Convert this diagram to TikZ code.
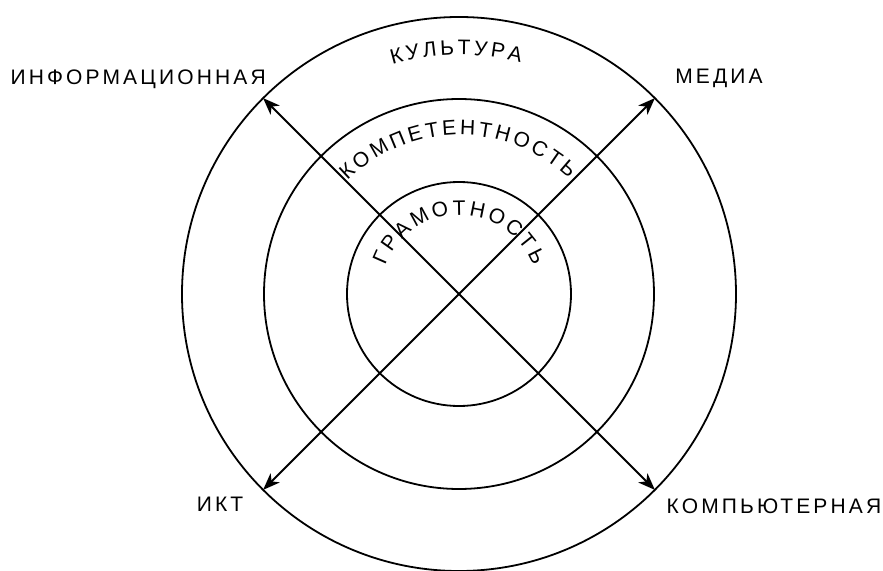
\documentclass[tikz,border=0pt]{standalone}
\usepackage{fontspec}
\setmainfont{Liberation Sans}[LetterSpace=15]
\usetikzlibrary{arrows.meta,decorations.text}

\newcommand{\tamano}{\fontsize{21}{25}\selectfont}
\newcommand{\arco}[2]{%
  \path[decorate, decoration={text along path, text align=center,
        text={|\tamano\kern3.2pt|#2}}]
    (181:#1) arc[start angle=181, end angle=1, radius=#1];}

\begin{document}
\begin{tikzpicture}[x=1pt, y=1pt, font=\tamano, line width=1.8pt,
                    flecha/.style={{Stealth[length=17pt, width=13pt, inset=5pt]}-{Stealth[length=17pt, width=13pt, inset=5pt]}}]
  \useasboundingbox (-459,-276) rectangle (424,294);
  % circulos
  \foreach \r in {277,195,112} \draw (0,0) circle (\r);
  % extremos de las flechas
  \foreach \n/\a in {no/135, ne/45, so/225, se/315}
    \coordinate (\n) at (\a:277);
  \draw[flecha] (no) -- (se);
  \draw[flecha] (so) -- (ne);
  % textos curvos
  \arco{239}{КУЛЬТУРА}
  \arco{159}{КОМПЕТЕНТНОСТЬ}
  \arco{79}{ГРАМОТНОСТЬ}
  % etiquetas
  \node[anchor=east] (info) at (-189,215) {ИНФОРМАЦИОННАЯ};
  \node (media) at (260,216) {МЕДИА};
  \node (ikt) at (-239,-210) {ИКТ};
  \node (komp) at (315,-212) {КОМПЬЮТЕРНАЯ};
\end{tikzpicture}
\end{document}
